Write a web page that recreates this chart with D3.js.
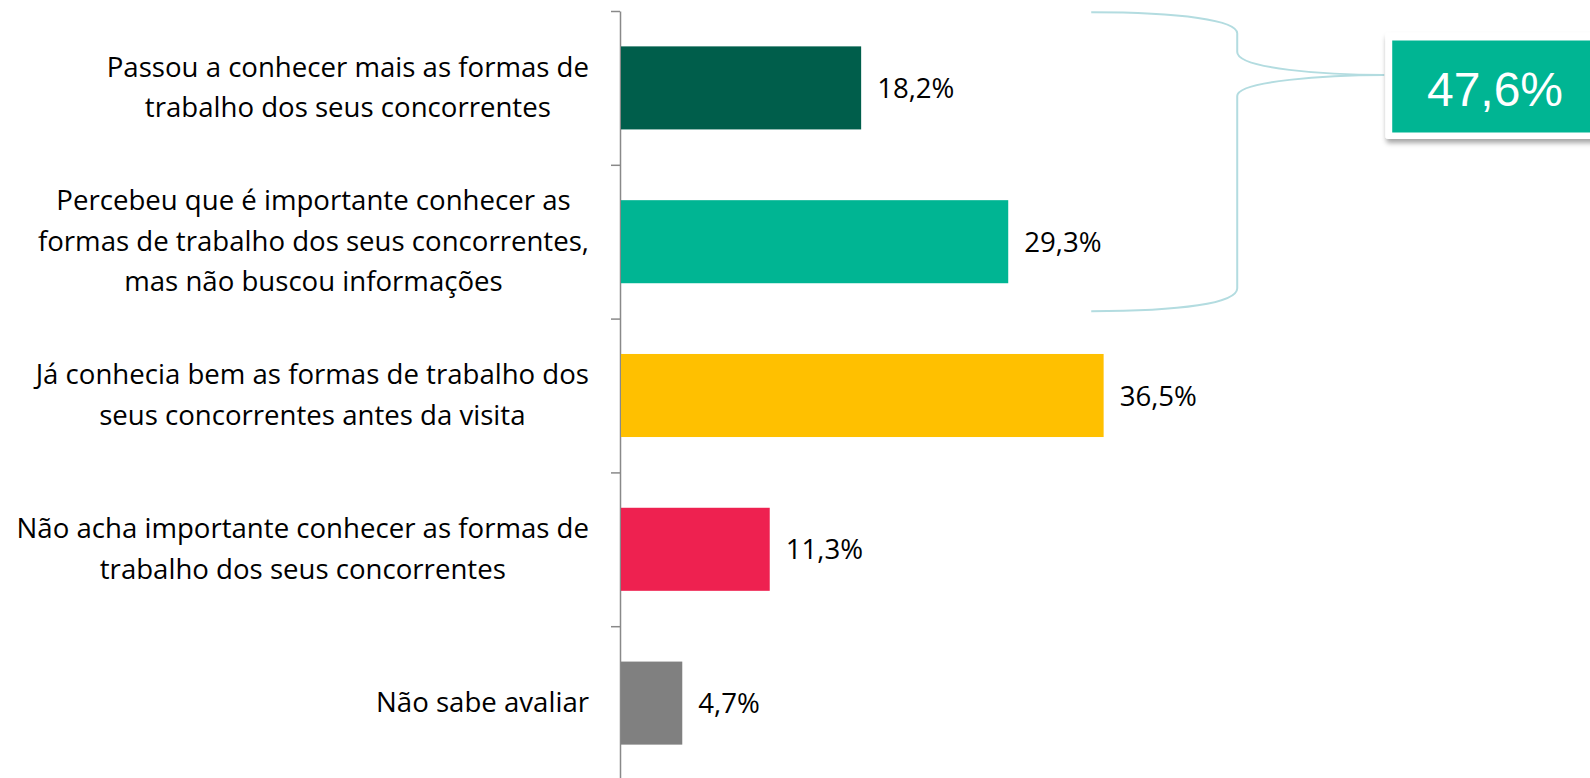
<!DOCTYPE html>
<html>
<head>
<meta charset="utf-8">
<script src="https://cdn.jsdelivr.net/npm/d3@7"></script>
<style>
  html, body { margin: 0; padding: 0; background: #fff; overflow: hidden; }
  svg { display: block; }
  text { font-family: "Open Sans", "Noto Sans", sans-serif; }
</style>
</head>
<body>
<svg id="chart" width="1590" height="778"></svg>
<script>
// categories (lines of each label), values and colours
var categories = [
  ["Passou a conhecer mais as formas de", "trabalho dos seus concorrentes"],
  ["Percebeu que é importante conhecer as", "formas de trabalho dos seus concorrentes,", "mas não buscou informações"],
  ["Já conhecia bem as formas de trabalho dos", "seus concorrentes antes da visita"],
  ["Não acha importante conhecer as formas de", "trabalho dos seus concorrentes"],
  ["Não sabe avaliar"]
];
var values = [18.2, 29.3, 36.5, 11.3, 4.7];
var valueLabels = ["18,2%", "29,3%", "36,5%", "11,3%", "4,7%"];
var colors = ["#005E4B", "#00B593", "#FFC000", "#EE2150", "#808080"];

// bracket annotation: sum of first two bars
var groupIndex = [0, 1];
var groupLabel = "47,6%";

var svg = d3.select("#chart");
var axisX = 620;
var plotTop = 11, plotBottom = 780;
var fontSize = 27.6;

var idx = d3.range(categories.length);

var y = d3.scaleBand()
    .domain(idx)
    .range([plotTop, plotBottom])
    .paddingInner(0.46)
    .paddingOuter(0.23);

var x = d3.scaleLinear()
    .domain([0, 100])
    .range([axisX, axisX + 1325]);

// boundary ticks
var tickScale = d3.scaleLinear().domain([0, categories.length]).range([plotTop, plotBottom]);
var axis = svg.append("g")
    .attr("transform", "translate(" + axisX + ",0)")
    .call(d3.axisLeft(tickScale).ticks(categories.length).tickFormat("").tickSize(9).tickSizeOuter(0));
axis.selectAll("line").attr("stroke", "#898989").attr("stroke-width", 1.5);
axis.select(".domain").attr("stroke", "#898989").attr("stroke-width", 1.5);

// bars
svg.selectAll("rect.bar")
    .data(values)
    .enter().append("rect")
    .attr("class", "bar")
    .attr("x", x(0) + 1)
    .attr("y", function(d, i) { return y(i); })
    .attr("width", function(d) { return x(d) - x(0) - 1; })
    .attr("height", y.bandwidth())
    .attr("fill", function(d, i) { return colors[i]; });

// value labels
svg.selectAll("text.val")
    .data(values)
    .enter().append("text")
    .attr("class", "val")
    .attr("x", function(d) { return x(d) + 16; })
    .attr("y", function(d, i) { return y(i) + y.bandwidth() / 2 + 10; })
    .attr("font-size", fontSize)
    .attr("fill", "#000")
    .text(function(d, i) { return valueLabels[i]; });

// category labels: block right aligned, lines centred within block
var labelRight = 589, lineH = 40.5;
categories.forEach(function(lines, i) {
  var cy = y(i) + y.bandwidth() / 2 + 9;
  var g = svg.append("g");
  var texts = lines.map(function(l, j) {
    return g.append("text")
      .attr("y", cy + (j - (lines.length - 1) / 2) * lineH)
      .attr("font-size", fontSize)
      .attr("text-anchor", "middle")
      .attr("fill", "#000")
      .text(l);
  });
  var maxW = d3.max(texts, function(t) { return t.node().getComputedTextLength(); });
  texts.forEach(function(t) { t.attr("x", labelRight - maxW / 2); });
});

// bracket
var bx0 = x(values[1]) + 83, bxK = bx0 + 146, bxE = bxK + 147;
var bTop = y(groupIndex[0]) - 34;
var bBot = y(groupIndex[1]) + y.bandwidth() + 28;
var bMid = 75;
var path = d3.path();
path.moveTo(bx0, bTop);
path.bezierCurveTo(bx0 + 90, bTop, bxK, bTop + 8, bxK, bTop + 21);
path.lineTo(bxK, bMid - 23);
path.bezierCurveTo(bxK, bMid - 6, bxK + 90, bMid, bxE, bMid);
path.moveTo(bxE, bMid);
path.bezierCurveTo(bxK + 90, bMid, bxK, bMid + 6, bxK, bMid + 21);
path.lineTo(bxK, bBot - 23);
path.bezierCurveTo(bxK, bBot - 8, bx0 + 90, bBot, bx0, bBot);
svg.append("path")
    .attr("d", path.toString())
    .attr("fill", "none")
    .attr("stroke", "#B3DCE0")
    .attr("stroke-width", 2);

// callout box
var defs = svg.append("defs");
var f = defs.append("filter").attr("id", "shadow").attr("x", "-10%").attr("y", "-20%").attr("width", "130%").attr("height", "160%");
f.append("feDropShadow").attr("dx", 1).attr("dy", 4).attr("stdDeviation", 2.5).attr("flood-color", "#000").attr("flood-opacity", 0.35);

svg.append("rect")
    .attr("x", bxE + 1).attr("y", 32.5)
    .attr("width", 260).attr("height", 106.5)
    .attr("rx", 3)
    .attr("fill", "#fff")
    .attr("filter", "url(#shadow)");
svg.append("rect")
    .attr("x", bxE + 8).attr("y", 40.5)
    .attr("width", 260).attr("height", 92)
    .attr("fill", "#00B593");
svg.append("text")
    .attr("x", 1495).attr("y", 106)
    .attr("text-anchor", "middle")
    .attr("font-size", 48)
    .attr("fill", "#fff")
    .style("font-family", "'Liberation Sans', Arial, sans-serif")
    .text(groupLabel);
</script>
</body>
</html>
